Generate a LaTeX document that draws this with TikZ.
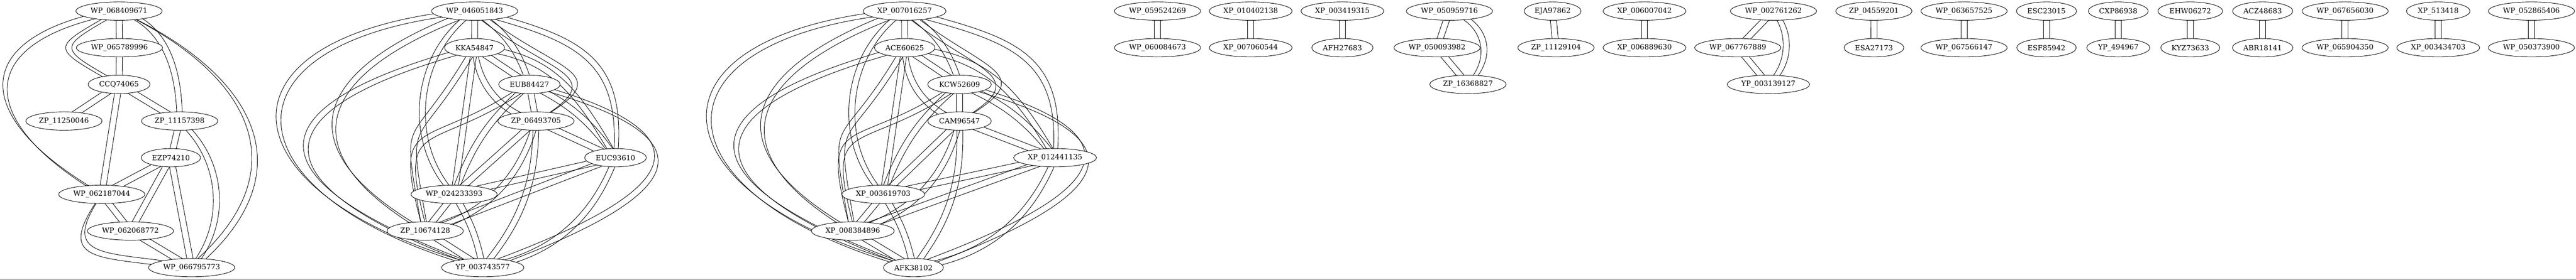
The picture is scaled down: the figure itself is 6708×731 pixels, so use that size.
\documentclass[tikz,border=0pt]{standalone}
\usepackage{fontspec}
\setmainfont{DejaVu Serif}
\usetikzlibrary{calc,backgrounds,shapes.geometric}

\tikzset{
  protein/.style={draw, ellipse, fill=white, line width=0.9pt,
    inner xsep=4pt, inner ysep=2pt, minimum height=35.9pt,
    font=\fontsize{14}{16}\selectfont},
  link/.style={line width=0.9pt}
}

% two parallel links between a pair of proteins
\newcommand{\twingap}{6pt}
\newcommand{\twin}[4][90]{%
  \pgfmathsetmacro\twinback{#1-180}%
  \pgfmathsetmacro\twinturn{#1+180}%
  \draw[link] ($(#2.center)!\twingap!#1:(#3.center)$) #4 ($(#3.center)!\twingap!\twinback:(#2.center)$);
  \draw[link] ($(#2.center)!\twingap!\twinturn:(#3.center)$) #4 ($(#3.center)!\twingap!#1:(#2.center)$);}

% eight proteins, all linked to each other
\newcommand{\octet}[8]{%
  \twin{#1}{#2}{--}
  \twin{#1}{#3}{to[bend left=20]}
  \twin{#1}{#4}{to[out=-40,in=30,looseness=2]}
  \twin{#1}{#5}{to[out=-15,in=85,looseness=1.3]}
  \twin{#1}{#6}{to[bend right=50]}
  \twin[50]{#1}{#7}{to[out=200,in=150,looseness=1.9]}
  \twin[50]{#1}{#8}{to[out=185,in=165,looseness=2.7]}
  \twin{#2}{#3}{--}
  \twin{#2}{#4}{to[bend right=35]}
  \twin{#2}{#5}{to[out=-5,in=120,looseness=1.1]}
  \twin{#2}{#6}{--}
  \twin{#2}{#7}{to[out=240,in=100,looseness=1.75]}
  \twin[50]{#2}{#8}{to[out=195,in=160,looseness=2.8]}
  \twin{#3}{#4}{--}
  \twin{#3}{#5}{to[bend left=15]}
  \twin{#3}{#6}{to[bend right=15]}
  \twin{#3}{#7}{to[out=215,in=105,looseness=1.8]}
  \twin[50]{#3}{#8}{to[out=-15,in=20,looseness=2.8]}
  \twin{#4}{#5}{--}
  \twin{#4}{#6}{--}
  \twin{#4}{#7}{to[bend left=30]}
  \twin{#4}{#8}{to[bend left=20]}
  \twin{#5}{#6}{--}
  \twin{#5}{#7}{--}
  \twin{#5}{#8}{to[bend left=30]}
  \twin{#6}{#7}{--}
  \twin{#6}{#8}{to[bend left=10]}
  \twin{#7}{#8}{--}}

\begin{document}
\begin{tikzpicture}[x=0.75pt, y=0.75pt]
\useasboundingbox (0,0) rectangle (6708,-731);

% first cluster
\node[protein] (wp068409671) at (310,-29) {WP\_068409671};
\node[protein] (wp065789996) at (311,-124.7) {WP\_065789996};
\node[protein] (ccq74065) at (310,-220.4) {CCQ74065};
\node[protein] (zp11250046) at (166.5,-316.1) {ZP\_11250046};
\node[protein] (zp11157398) at (467.7,-316.1) {ZP\_11157398};
\node[protein] (ezp74210) at (445,-411.8) {EZP74210};
\node[protein] (wp062187044) at (265,-507.5) {WP\_062187044};
\node[protein] (wp062068772) at (339.7,-603.2) {WP\_062068772};
\node[protein] (wp066795773) at (499.1,-698.9) {WP\_066795773};

% second cluster
\node[protein] (wp046051843) at (1236,-29) {WP\_046051843};
\node[protein] (kka54847) at (1235.7,-124.7) {KKA54847};
\node[protein] (eub84427) at (1378.5,-220.4) {EUB84427};
\node[protein] (zp06493705) at (1395.7,-316.1) {ZP\_06493705};
\node[protein] (euc93610) at (1602.8,-411.8) {EUC93610};
\node[protein] (wp024233393) at (1182.5,-507.5) {WP\_024233393};
\node[protein] (zp10674128) at (1107.3,-603.2) {ZP\_10674128};
\node[protein] (yp003743577) at (1257,-698.9) {YP\_003743577};

% third cluster
\node[protein] (xp007016257) at (2355.6,-29) {XP\_007016257};
\node[protein] (ace60625) at (2355.9,-124.7) {ACE60625};
\node[protein] (kcw52609) at (2498.7,-220.4) {KCW52609};
\node[protein] (cam96547) at (2498.7,-316.1) {CAM96547};
\node[protein] (xp012441135) at (2747.4,-411.8) {XP\_012441135};
\node[protein] (xp003619703) at (2300,-507.5) {XP\_003619703};
\node[protein] (xp008384896) at (2220.7,-603.2) {XP\_008384896};
\node[protein] (afk38102) at (2378.6,-698.9) {AFK38102};

% triangles
\node[protein] (wp050959716) at (3774.4,-29) {WP\_050959716};
\node[protein] (wp050093982) at (3742.1,-124.7) {WP\_050093982};
\node[protein] (zp16368827) at (3822.5,-220.4) {ZP\_16368827};
\node[protein] (wp002761262) at (4618.1,-29) {WP\_002761262};
\node[protein] (wp067767889) at (4525.3,-124.7) {WP\_067767889};
\node[protein] (yp003139127) at (4605,-220.4) {YP\_003139127};

% pairs
\foreach \xa/\xb/\na/\nb/\ta/\tb in {
  3014.2/3014.2/wp059524269/wp060084673/WP\_059524269/WP\_060084673,
  3256.8/3256.8/xp010402138/xp007060544/XP\_010402138/XP\_007060544,
  3495.7/3495.7/xp003419315/afh27683/XP\_003419315/AFH27683,
  4043/4051.8/eja97862/zp11129104/EJA97862/ZP\_11129104,
  4282.3/4282.3/xp006007042/xp006889630/XP\_006007042/XP\_006889630,
  4879.6/4879.8/zp04559201/esa27173/ZP\_04559201/ESA27173,
  5114.4/5114.4/wp063657525/wp067566147/WP\_063657525/WP\_067566147,
  5329.1/5329.1/esc23015/esf85942/ESC23015/ESF85942,
  5516/5516/cxp86938/yp494967/CXP86938/YP\_494967,
  5703.5/5703.5/ehw06272/kyz73633/EHW06272/KYZ73633,
  5892/5892/acz48683/abr18141/ACZ48683/ABR18141,
  6106.6/6106.6/wp067656030/wp065904350/WP\_067656030/WP\_065904350,
  6349.2/6349.2/xp513418/xp003434703/XP\_513418/XP\_003434703,
  6591.8/6591.8/wp052865406/wp050373900/WP\_052865406/WP\_050373900}{
  \node[protein] (\na) at (\xa,-29) {\ta};
  \node[protein] (\nb) at (\xb,-124.7) {\tb};
  \begin{pgfonlayer}{background}
    \twin{\na}{\nb}{--}
  \end{pgfonlayer}
}

\begin{pgfonlayer}{background}
\twin{wp068409671}{wp065789996}{--}
\twin{wp068409671}{ccq74065}{to[out=210,in=150,looseness=2.7]}
\twin[50]{wp068409671}{wp062187044}{to[out=190,in=150,looseness=2.1]}
\twin{wp068409671}{zp11157398}{to[out=-15,in=90]}
\twin[50]{wp068409671}{wp066795773}{to[out=-25,in=40,looseness=1.43]}
\twin{wp065789996}{ccq74065}{--}
\twin{ccq74065}{zp11250046}{--}
\twin{ccq74065}{zp11157398}{--}
\twin{ccq74065}{wp062187044}{--}
\twin{zp11157398}{ezp74210}{--}
\twin{zp11157398}{wp066795773}{to[bend left=45]}
\twin{ezp74210}{wp062187044}{--}
\twin{ezp74210}{wp062068772}{--}
\twin{ezp74210}{wp066795773}{--}
\twin{wp062187044}{wp062068772}{--}
\twin{wp062187044}{wp066795773}{to[out=235,in=170,looseness=1.9]}
\twin{wp062068772}{wp066795773}{--}

\octet{wp046051843}{kka54847}{eub84427}{zp06493705}{euc93610}{wp024233393}{zp10674128}{yp003743577}
\octet{xp007016257}{ace60625}{kcw52609}{cam96547}{xp012441135}{xp003619703}{xp008384896}{afk38102}

\twin{wp050959716}{wp050093982}{--}
\twin{wp050093982}{zp16368827}{--}
\twin{wp050959716}{zp16368827}{to[bend left=60,looseness=1.3]}
\twin{wp002761262}{wp067767889}{--}
\twin{wp067767889}{yp003139127}{--}
\twin{wp002761262}{yp003139127}{to[bend left=45]}
\end{pgfonlayer}

\draw[gray!60, line width=1.1pt] (0,-729.8) -- (6708,-729.8);
\end{tikzpicture}
\end{document}
